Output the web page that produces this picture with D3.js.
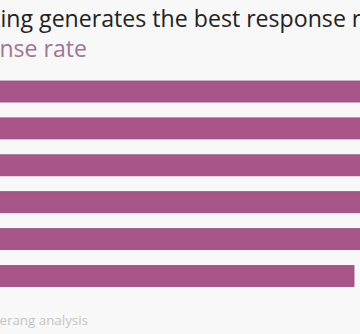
<!DOCTYPE html>
<html>
<head>
<meta charset="utf-8">
<script src="https://cdn.jsdelivr.net/npm/d3@7"></script>
<style>
  html, body { margin: 0; padding: 0; background: #f8f8f8; overflow: hidden; }
  svg { display: block; }
</style>
</head>
<body>
<svg id="chart" width="360" height="334"></svg>
<script>
// ---- data ----
const categories = ["Thanks in advance", "Thanks", "Thank you", "Cheers", "Regards", "Best"];
const responseRates = [65.7, 63.0, 57.9, 54.4, 53.5, 51.2];
const titleText = "Thanking generates the best response rate";
const titleHidden = "Thank";
const titleVisible = "ing generates the best response r";
const subtitleText = "Response rate";
const subtitleHidden = "Respo";
const subtitleVisible = "nse rate";
const sourceText = "Source: Boomerang analysis";
const sourceHidden = "Source: Boom";
const sourceVisible = "erang analysis";

const W = 360, H = 334;
const svg = d3.select("#chart");
const fontFamily = "'Open Sans', 'Noto Sans', sans-serif";

svg.append("rect").attr("width", W).attr("height", H).attr("fill", "#f8f8f8");

function textWidth(str, size) {
  const t = svg.append("text").attr("font-family", fontFamily)
    .attr("font-size", size).text(str);
  const w = t.node().getComputedTextLength();
  t.remove();
  return w;
}
// font size giving the visible fragment the width seen in the crop
function fitSize(str, target) {
  return 100 * target / textWidth(str, 100);
}

const x = d3.scaleLinear().domain([0, 70]).range([-230, -230 + 70 * (584 / 51.2)]);
const y = d3.scaleBand().domain(categories).range([81, 286.5]).paddingInner(0.43).paddingOuter(0);

// bars
svg.append("g").selectAll("rect")
  .data(categories.map((c, i) => ({ c, v: responseRates[i] })))
  .join("rect")
  .attr("x", x(0))
  .attr("y", d => y(d.c))
  .attr("width", d => x(d.v) - x(0))
  .attr("height", y.bandwidth())
  .attr("fill", "#a8568a")
  .attr("stroke", "#934b79")
  .attr("stroke-width", 0.8);

// title
const tSize = fitSize(titleVisible, 361);
svg.append("text")
  .attr("x", 0.5 - textWidth(titleHidden, tSize))
  .attr("y", 27)
  .attr("font-family", fontFamily)
  .attr("font-size", tSize)
  .attr("fill", "#222")
  .text(titleText);

// subtitle
const sSize = fitSize(subtitleVisible, 87.5);
svg.append("text")
  .attr("x", -0.5 - textWidth(subtitleHidden, sSize))
  .attr("y", 57)
  .attr("font-family", fontFamily)
  .attr("font-size", sSize)
  .attr("fill", "#a07594")
  .text(subtitleText);

// source
const srcSize = fitSize(sourceVisible, 88.5);
svg.append("text")
  .attr("x", -0.5 - textWidth(sourceHidden, srcSize))
  .attr("y", 325)
  .attr("font-family", fontFamily)
  .attr("font-size", srcSize)
  .attr("fill", "#c4c4c4")
  .text(sourceText);
</script>
</body>
</html>
